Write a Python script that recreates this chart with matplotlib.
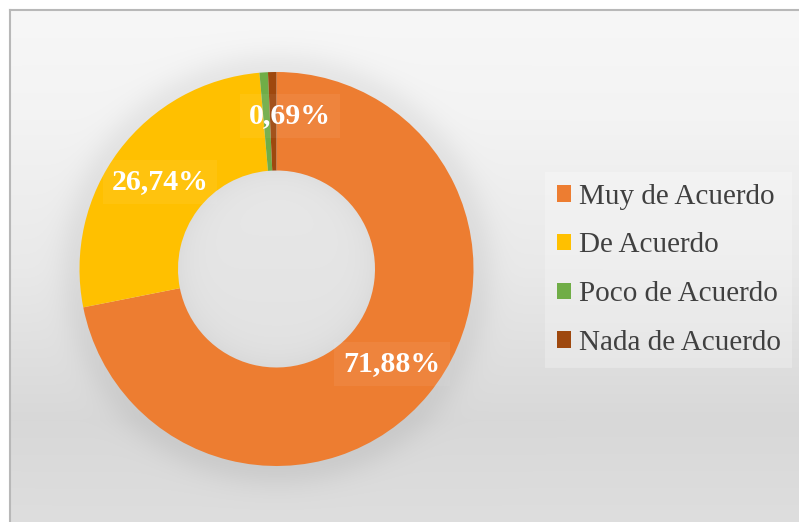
import numpy as np
import matplotlib
matplotlib.use("Agg")
import matplotlib.pyplot as plt
from matplotlib.patches import Patch

# ---- data ----
categories = ["Muy de Acuerdo", "De Acuerdo", "Poco de Acuerdo", "Nada de Acuerdo"]
values = [71.88, 26.74, 0.69, 0.69]
labels_shown = ["71,88%", "26,74%", "0,69%", None]
colors = ["#ED7D31", "#FFC000", "#70AD47", "#9E480E"]

W, H = 799, 522
DPI = 100
fig = plt.figure(figsize=(W / DPI, H / DPI), dpi=DPI)
fig.patch.set_facecolor("white")

# ---- background panel with gradient + soft shadow ----
x0, y0 = 10, 10  # frame offset (pixels from left/top)
bg = fig.add_axes([x0 / W, 0, 1 - x0 / W, 1 - y0 / H])
bg.set_axis_off()
ph, pw = H - y0, W - x0
yy, xx = np.mgrid[0:ph, 0:pw]
# vertical gradient: light top, darkest near y~420, slightly lighter at bottom
ypix = yy + y0
grad = np.interp(ypix, [10, 120, 269, 420, 522], [247, 243, 233, 216, 222])
cx, cy, R = 276.5 - x0, 269 - y0, 197
d = np.hypot(xx - cx, yy - cy)
shadow = 14 * np.exp(-((d - R) / 22.0) ** 2) * (d > R - 30)
img = grad - shadow
hole = d < 100
img = np.where(hole, 229 - 9 * (d / 99.0) ** 6 - 3 * (yy - cy) / 99.0, img)
img = np.clip(img, 0, 255) / 255.0
bg.imshow(np.dstack([img, img, img]), extent=(0, pw, ph, 0), aspect="auto",
          interpolation="bilinear")
bg.set_xlim(0, pw)
bg.set_ylim(ph, 0)
# frame lines (left and top visible)
fig.add_artist(plt.Line2D([x0 / W, x0 / W], [0, 1 - y0 / H], color="#b8b8b8", lw=1.5))
fig.add_artist(plt.Line2D([x0 / W, 1], [1 - y0 / H, 1 - y0 / H], color="#b8b8b8", lw=1.5))

# ---- donut ----
left = (276.5 - R) / W
bottom = (H - 269 - R) / H
ax = fig.add_axes([left, bottom, 2 * R / W, 2 * R / H])
ax.set_axis_off()
wedges, _ = ax.pie(values, colors=colors, startangle=90, counterclock=False,
                   radius=1.0, wedgeprops=dict(width=0.5, linewidth=0))
ax.set_xlim(-1, 1)
ax.set_ylim(-1, 1)
ax.set_aspect("equal")

# label positions in pixel coords (layout only)
label_px = [(392, 364), (160, 182), (290, 116), None]
for lab, pos in zip(labels_shown, label_px):
    if lab is None:
        continue
    xd = (pos[0] - 276.5) / R
    yd = (269 - pos[1]) / R
    ax.text(xd, yd, lab, ha="center", va="center", color="white",
            fontsize=21.5, fontweight="bold", family="Liberation Serif",
            bbox=dict(boxstyle="square,pad=0.3", facecolor="white",
                      alpha=0.06, edgecolor="none"))

# ---- legend ----
handles = [Patch(facecolor=c, edgecolor="none") for c in colors]
leg = fig.legend(handles, categories, loc="upper left",
                 bbox_to_anchor=(545 / W, 1 - 172 / H),
                 prop=dict(family="Liberation Serif", size=21),
                 frameon=True, fancybox=False, borderaxespad=0,
                 handlelength=0.5, handleheight=0.5, handletextpad=0.25,
                 labelspacing=0.78, borderpad=0.4)
leg.get_frame().set_facecolor("white")
leg.get_frame().set_alpha(0.25)
leg.get_frame().set_edgecolor("none")
for t in leg.get_texts():
    t.set_color("#404040")

fig.savefig("out.png", dpi=DPI)
